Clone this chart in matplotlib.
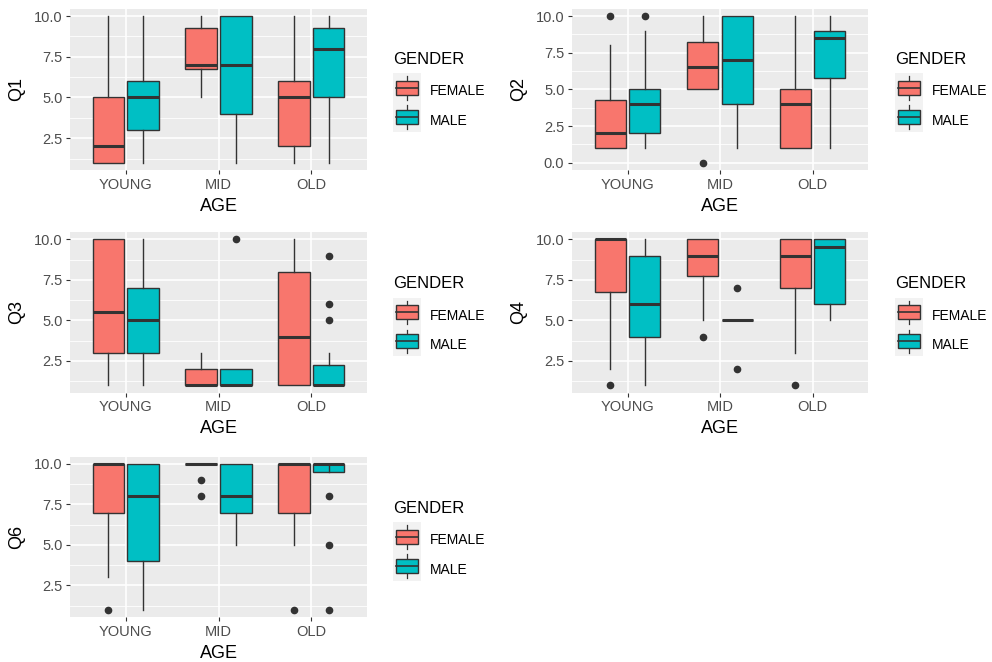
import matplotlib
matplotlib.use("Agg")
import matplotlib.pyplot as plt
from matplotlib.patches import Rectangle
from matplotlib.lines import Line2D

plt.rcParams['font.family'] = ['Liberation Sans', 'DejaVu Sans']

ages = ["YOUNG", "MID", "OLD"]
genders = ["FEMALE", "MALE"]
colors = ["#F8766D", "#00BFC4"]

# stats per age group: [whisker_low, q1, median, q3, whisker_high]
Q1_F = [[1, 1, 2, 5, 10], [5, 6.75, 7, 9.25, 10], [1, 2, 5, 6, 10]]
Q1_M = [[1, 3, 5, 6, 10], [1, 4, 7, 10, 10], [1, 5, 8, 9.25, 10]]
Q1_F_out = [[], [], []]
Q1_M_out = [[], [], []]

Q2_F = [[1, 1, 2, 4.25, 8], [5, 5, 6.5, 8.25, 10], [1, 1, 4, 5, 10]]
Q2_M = [[1, 2, 4, 5, 9], [1, 4, 7, 10, 10], [1, 5.75, 8.5, 9, 10]]
Q2_F_out = [[10], [0], []]
Q2_M_out = [[10], [], []]

Q3_F = [[1, 3, 5.5, 10, 10], [1, 1, 1, 2, 3], [1, 1, 4, 8, 10]]
Q3_M = [[1, 3, 5, 7, 10], [1, 1, 1, 2, 2], [1, 1, 1, 2.25, 3]]
Q3_F_out = [[], [], []]
Q3_M_out = [[], [10], [9, 6, 5]]

Q4_F = [[2, 6.75, 10, 10, 10], [5, 7.75, 9, 10, 10], [3, 7, 9, 10, 10]]
Q4_M = [[1, 4, 6, 9, 10], [5, 5, 5, 5, 5], [5, 6, 9.5, 10, 10]]
Q4_F_out = [[1], [4], [1]]
Q4_M_out = [[], [7, 2], []]

Q6_F = [[3, 7, 10, 10, 10], [10, 10, 10, 10, 10], [5, 7, 10, 10, 10]]
Q6_M = [[1, 4, 8, 10, 10], [5, 7, 8, 10, 10], [10, 9.5, 10, 10, 10]]
Q6_F_out = [[1], [9, 8], [1]]
Q6_M_out = [[], [], [8, 5, 1]]

panels = [
    ("Q1", Q1_F, Q1_M, Q1_F_out, Q1_M_out, (0.55, 10.45), [2.5, 5.0, 7.5, 10.0]),
    ("Q2", Q2_F, Q2_M, Q2_F_out, Q2_M_out, (-0.5, 10.5), [0.0, 2.5, 5.0, 7.5, 10.0]),
    ("Q3", Q3_F, Q3_M, Q3_F_out, Q3_M_out, (0.55, 10.45), [2.5, 5.0, 7.5, 10.0]),
    ("Q4", Q4_F, Q4_M, Q4_F_out, Q4_M_out, (0.55, 10.45), [2.5, 5.0, 7.5, 10.0]),
    ("Q6", Q6_F, Q6_M, Q6_F_out, Q6_M_out, (0.55, 10.45), [2.5, 5.0, 7.5, 10.0]),
]

W, H = 992, 662
fig = plt.figure(figsize=(W / 100, H / 100), dpi=100)

# panel rectangles in pixels: (left, top, right, bottom)
rects = [
    (70, 8.7, 367, 170),
    (572, 8.7, 868, 170),
    (70, 232, 367, 392.6),
    (572, 232, 868, 392.6),
    (70, 456.7, 367, 617),
]
# legend anchor: (left x, title baseline y)
legend_pos = [(393, 64), (895, 64), (393, 288.5), (895, 288.5), (393, 513)]

EDGE = "#333333"


def fig_rect(l, t, r, b):
    return [l / W, 1 - b / H, (r - l) / W, (b - t) / H]


def make_stats(arr, outs):
    st = []
    for s, o in zip(arr, outs):
        st.append(dict(whislo=s[0], q1=s[1], med=s[2], q3=s[3], whishi=s[4], fliers=o))
    return st


for (name, F, M, Fo, Mo, ylim, yt), rc, lp in zip(panels, rects, legend_pos, strict=False):
    ax = fig.add_axes(fig_rect(*rc))
    ax.set_facecolor("#EBEBEB")
    for sp in ax.spines.values():
        sp.set_visible(False)
    ax.set_xlim(0.4, 3.6)
    ax.set_ylim(*ylim)
    # grid
    minors = [(yt[i] + yt[i + 1]) / 2 for i in range(len(yt) - 1)]
    lo = yt[0] - (yt[1] - yt[0]) / 2
    if lo > ylim[0]:
        minors = [lo] + minors
    for m in minors:
        ax.axhline(m, color="white", lw=0.6, zorder=0.5)
    for t in yt:
        ax.axhline(t, color="white", lw=1.2, zorder=0.6)
    for x in [1, 2, 3]:
        ax.axvline(x, color="white", lw=1.2, zorder=0.6)

    for g, (arr, outs) in enumerate([(F, Fo), (M, Mo)]):
        pos = [i + 1 + (-0.1875 if g == 0 else 0.1875) for i in range(3)]
        ax.bxp(make_stats(arr, outs), positions=pos, widths=0.3375,
               patch_artist=True, showcaps=False, manage_ticks=False,
               boxprops=dict(facecolor=colors[g], edgecolor=EDGE, linewidth=1.0),
               medianprops=dict(color=EDGE, linewidth=2.2, solid_capstyle="butt"),
               whiskerprops=dict(color=EDGE, linewidth=1.0),
               flierprops=dict(marker="o", markerfacecolor=EDGE, markeredgecolor=EDGE,
                               markersize=4.5, linestyle="none"),
               zorder=2)

    ax.set_xticks([1, 2, 3])
    ax.set_xticklabels(ages)
    ax.set_yticks(yt)
    ax.set_yticklabels([f"{v:.1f}" for v in yt])
    ax.tick_params(axis="both", length=3, width=0.8, color=EDGE, labelcolor="#4D4D4D",
                   labelsize=10.5, pad=2.5)
    ax.set_xlabel("AGE", fontsize=13, color="black", labelpad=4.5)
    ax.set_ylabel(name, fontsize=13, color="black", labelpad=6.5)

    # legend
    lx, ly = lp
    fig.text(lx / W, 1 - ly / H, "GENDER", fontsize=12, ha="left", va="baseline")
    key_top = ly + 9.3
    kw, kh = 28, 29.2
    for g, lab in enumerate(genders):
        kt = key_top + g * kh
        kax = fig.add_axes(fig_rect(lx, kt, lx + kw, kt + kh))
        kax.set_xlim(0, 1)
        kax.set_ylim(0, 1)
        kax.axis("off")
        kax.add_patch(Rectangle((0, 0), 1, 1, facecolor="#F2F2F2", edgecolor="none"))
        kax.add_line(Line2D([0.5, 0.5], [0.1, 0.9], color=EDGE, lw=0.9))
        kax.add_patch(Rectangle((0.1, 0.27), 0.8, 0.48, facecolor=colors[g],
                                edgecolor=EDGE, lw=1.0, zorder=3))
        kax.add_line(Line2D([0.1, 0.9], [0.51, 0.51], color=EDGE, lw=1.2, zorder=4))
        fig.text((lx + kw + 9) / W, 1 - (kt + kh / 2 + 7.5) / H, lab, fontsize=10,
                 ha="left", va="baseline", color="black")

fig.savefig("out.png", dpi=100)
